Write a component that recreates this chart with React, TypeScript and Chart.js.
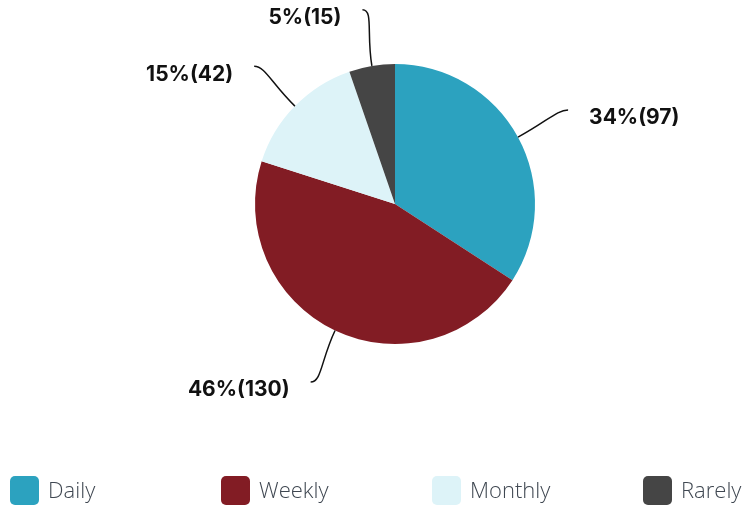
import React, { useEffect, useRef } from "react";
import { Chart, registerables } from "chart.js";

Chart.register(...registerables);

const categories = ["Daily", "Weekly", "Monthly", "Rarely"];
const counts = [97, 130, 42, 15];
const colors = ["#2ca2bf", "#821c24", "#ddf3f8", "#454545"];

const W = 747;
const H = 508;

const labelPlugin = {
  id: "leaderLabels",
  afterDatasetsDraw(chart: any) {
    const ctx = chart.ctx;
    const meta = chart.getDatasetMeta(0);
    const total = counts.reduce((a, b) => a + b, 0);
    ctx.save();
    meta.data.forEach((arc: any, i: number) => {
      const { x, y, startAngle, endAngle, outerRadius } = arc.getProps(
        ["x", "y", "startAngle", "endAngle", "outerRadius"],
        true
      );
      const mid = (startAngle + endAngle) / 2;
      const dx = Math.cos(mid);
      const dy = Math.sin(mid);
      const sign = dx >= 0 ? 1 : -1;
      const sx = x + dx * outerRadius;
      const sy = y + dy * outerRadius;
      const c1x = x + dx * (outerRadius + 33);
      const c1y = y + dy * (outerRadius + 33);
      const ex = x + dx * (outerRadius + 57);
      const ey = y + dy * (outerRadius + 57);
      const c2x = ex - sign * 11;
      const c2y = ey;
      ctx.beginPath();
      ctx.moveTo(sx, sy);
      ctx.bezierCurveTo(c1x, c1y, c2x, c2y, ex, ey);
      ctx.strokeStyle = "#111111";
      ctx.lineWidth = 1.5;
      ctx.stroke();
      const pct = Math.round((counts[i] / total) * 100);
      const text = `${pct}%(${counts[i]})`;
      ctx.font = "700 21px Inter, 'Noto Sans', sans-serif";
      ctx.fillStyle = "#111111";
      ctx.textBaseline = "middle";
      ctx.textAlign = sign > 0 ? "left" : "right";
      ctx.fillText(text, ex + sign * 21, ey + 8);
    });

    // legend
    const colW = 211;
    categories.forEach((cat, i) => {
      const bx = 10 + i * colW;
      const by = 476;
      ctx.beginPath();
      (ctx as any).roundRect(bx, by, 29, 29, 5);
      ctx.fillStyle = colors[i];
      ctx.fill();
      ctx.font = "300 22px 'Open Sans', sans-serif";
      ctx.fillStyle = "#3f4751";
      ctx.textAlign = "left";
      ctx.textBaseline = "middle";
      ctx.fillText(cat, bx + 38, by + 16);
    });
    ctx.restore();
  },
};

export default function App() {
  const ref = useRef<HTMLCanvasElement | null>(null);
  useEffect(() => {
    if (!ref.current) return;
    const chart = new Chart(ref.current, {
      type: "pie",
      data: {
        labels: categories,
        datasets: [
          {
            data: counts,
            backgroundColor: colors,
            borderWidth: 0,
          },
        ],
      },
      options: {
        responsive: false,
        animation: false,
        devicePixelRatio: 1,
        layout: { padding: { left: 255, right: 212, top: 64, bottom: 164 } },
        plugins: {
          legend: { display: false },
          tooltip: { enabled: false },
        },
      },
      plugins: [labelPlugin],
    });
    return () => chart.destroy();
  }, []);
  return (
    <div style={{ position: "fixed", left: 0, top: 0, width: W, height: H, background: "#fff" }}>
      <canvas ref={ref} width={W} height={H} style={{ width: W, height: H }} />
    </div>
  );
}
